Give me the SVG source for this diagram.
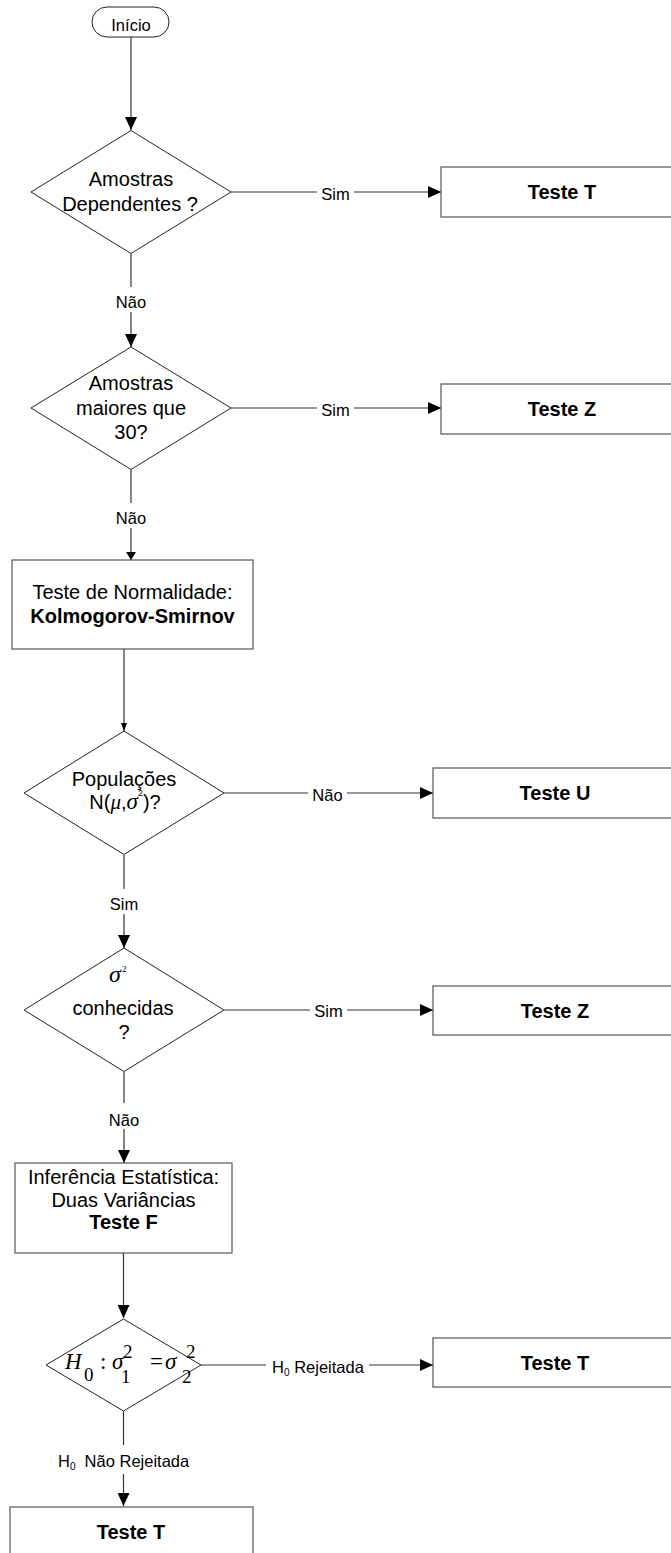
<svg xmlns="http://www.w3.org/2000/svg" width="671" height="1553" viewBox="0 0 671 1553">
  <style>
    .shape { fill: #ffffff; stroke: #222222; stroke-width: 1; }
    .box { fill: #ffffff; stroke: #555555; stroke-width: 1.2; }
    .wire { fill: none; stroke: #333333; stroke-width: 1.2; }
    .txt { font-family: "Liberation Sans", Arial, sans-serif; font-size: 20px; fill: #000000; text-anchor: middle; }
    .bold { font-weight: bold; }
    .lbl { font-family: "Liberation Sans", Arial, sans-serif; font-size: 16.5px; fill: #000000; text-anchor: middle; }
    .gap { fill: #ffffff; stroke: none; }
    .math { font-family: "Liberation Serif", "Times New Roman", serif; font-size: 23px; fill: #000000; }
    .idx { font-size: 19px; }
    .it { font-style: italic; }
  </style>
  <defs>
    <marker id="arrow" markerUnits="userSpaceOnUse" markerWidth="13" markerHeight="12" refX="13" refY="6" orient="auto">
      <path d="M0,0 L13,6 L0,12 Z" fill="#000000"/>
    </marker>
    <marker id="arrow-mid" markerUnits="userSpaceOnUse" markerWidth="8" markerHeight="10" refX="8" refY="5" orient="auto">
      <path d="M0,0 L8,5 L0,10 Z" fill="#000000"/>
    </marker>
    <marker id="arrow-small" markerUnits="userSpaceOnUse" markerWidth="8" markerHeight="6" refX="8" refY="3" orient="auto">
      <path d="M0,0 L8,3 L0,6 Z" fill="#000000"/>
    </marker>
  </defs>

  <rect width="671" height="1553" fill="#ffffff"/>

  <!-- connectors and their labels -->
  <g id="connectors">
    <path class="wire" d="M131,37 V130" marker-end="url(#arrow)"/>

    <path class="wire" d="M231,192 H441" marker-end="url(#arrow)"/>
    <rect class="gap" x="317" y="184" width="37" height="16"/>
    <text class="lbl" x="335.5" y="200">Sim</text>

    <path class="wire" d="M131,254 V347" marker-end="url(#arrow)"/>
    <rect class="gap" x="112" y="287" width="38" height="25"/>
    <text class="lbl" x="131" y="308">Não</text>

    <path class="wire" d="M231,408 H441" marker-end="url(#arrow)"/>
    <rect class="gap" x="317" y="400" width="37" height="16"/>
    <text class="lbl" x="335.5" y="416">Sim</text>

    <path class="wire" d="M131,470 V560" marker-end="url(#arrow-mid)"/>
    <rect class="gap" x="112" y="503" width="38" height="25"/>
    <text class="lbl" x="131" y="524">Não</text>

    <path class="wire" d="M124,649 V731" marker-end="url(#arrow-small)"/>

    <path class="wire" d="M224,793 H433" marker-end="url(#arrow)"/>
    <rect class="gap" x="308" y="785" width="39" height="16"/>
    <text class="lbl" x="327.5" y="801">Não</text>

    <path class="wire" d="M124,855 V948" marker-end="url(#arrow)"/>
    <rect class="gap" x="105" y="889" width="38" height="25"/>
    <text class="lbl" x="124" y="910">Sim</text>

    <path class="wire" d="M224,1010 H433" marker-end="url(#arrow)"/>
    <rect class="gap" x="310" y="1002" width="37" height="16"/>
    <text class="lbl" x="328.5" y="1017">Sim</text>

    <path class="wire" d="M124,1072 V1163" marker-end="url(#arrow)"/>
    <rect class="gap" x="105" y="1103" width="38" height="26"/>
    <text class="lbl" x="124" y="1126">Não</text>

    <path class="wire" d="M123.5,1253 V1318" marker-end="url(#arrow)"/>

    <path class="wire" d="M201,1365 H433" marker-end="url(#arrow)"/>
    <rect class="gap" x="266" y="1357" width="103" height="18"/>
    <text class="lbl" x="318" y="1373">H<tspan style="font-size:10px" dy="3">0</tspan><tspan dy="-3"> Rejeitada</tspan></text>

    <path class="wire" d="M123.5,1411 V1506" marker-end="url(#arrow)"/>
    <rect class="gap" x="52" y="1445" width="143" height="29"/>
    <text class="lbl" x="123.6" y="1467" xml:space="preserve">H<tspan style="font-size:10px" dy="3">0</tspan><tspan dy="-3">  Não Rejeitada</tspan></text>
  </g>

  <!-- start terminal -->
  <g id="inicio">
    <rect class="shape" x="92" y="7" width="77" height="30" rx="15" ry="15"/>
    <text class="txt" x="131" y="30.5" style="font-size:16.5px">Início</text>
  </g>

  <!-- decision: dependent samples -->
  <g id="dec-dependentes">
    <polygon class="shape" points="131,130.5 231,192 131,253.5 31,192"/>
    <text class="txt" x="131" y="186">Amostras</text>
    <text class="txt" x="130" y="211">Dependentes ?</text>
  </g>

  <g id="teste-t-1">
    <rect class="box" x="441" y="167" width="242" height="50"/>
    <text class="txt bold" x="562" y="199">Teste T</text>
  </g>

  <!-- decision: sample size -->
  <g id="dec-maiores30">
    <polygon class="shape" points="131,347 231,408 131,469.5 31,408"/>
    <text class="txt" x="131" y="390">Amostras</text>
    <text class="txt" x="131" y="415">maiores que</text>
    <text class="txt" x="131" y="438.5">30?</text>
  </g>

  <g id="teste-z-1">
    <rect class="box" x="441" y="384" width="242" height="50"/>
    <text class="txt bold" x="562" y="416">Teste Z</text>
  </g>

  <!-- normality test -->
  <g id="normalidade">
    <rect class="box" x="12" y="560" width="241" height="89"/>
    <text class="txt" x="132.5" y="599">Teste de Normalidade:</text>
    <text class="txt bold" x="132.5" y="622.5">Kolmogorov-Smirnov</text>
  </g>

  <!-- decision: normal populations -->
  <g id="dec-normal">
    <polygon class="shape" points="124,731 224,793 124,854.5 24,793"/>
    <text class="txt" x="124" y="786">Populações</text>
    <text class="txt" x="125" y="808.5">N(<tspan style="font-family:'Liberation Serif','Times New Roman',serif;font-style:italic;font-size:21px">μ</tspan>,<tspan style="font-family:'Liberation Serif','Times New Roman',serif;font-style:italic;font-size:23px">σ</tspan><tspan style="font-size:9px" dy="-13">2</tspan><tspan dy="13">)?</tspan></text>
  </g>

  <g id="teste-u">
    <rect class="box" x="433" y="768" width="244" height="50"/>
    <text class="txt bold" x="555" y="800">Teste U</text>
  </g>

  <!-- decision: known variances -->
  <g id="dec-conhecidas">
    <polygon class="shape" points="124,948 224,1010 124,1071.5 24,1010"/>
    <text class="math it" x="109" y="982" style="font-size:24px">σ</text>
    <text class="math" x="122" y="972" style="font-size:9px">2</text>
    <text class="txt" x="123" y="1015">conhecidas</text>
    <text class="txt" x="124" y="1038.5">?</text>
  </g>

  <g id="teste-z-2">
    <rect class="box" x="433" y="986" width="244" height="49"/>
    <text class="txt bold" x="555" y="1017.5">Teste Z</text>
  </g>

  <!-- F test on two variances -->
  <g id="teste-f">
    <rect class="box" x="15" y="1163" width="217" height="90"/>
    <text class="txt" x="123.5" y="1184">Inferência Estatística:</text>
    <text class="txt" x="123.5" y="1206.5">Duas Variâncias</text>
    <text class="txt bold" x="123.5" y="1229">Teste F</text>
  </g>

  <!-- decision: equal variances hypothesis -->
  <g id="dec-h0">
    <polygon class="shape" points="123.5,1319 201,1365 123.5,1411 46,1365"/>
    <text class="math it" x="65" y="1368.5">H</text>
    <text class="math idx" x="84" y="1380.5">0</text>
    <text class="math" x="100" y="1368.5">:</text>
    <text class="math it" x="112" y="1368.5">σ</text>
    <text class="math idx" x="123" y="1358">2</text>
    <text class="math idx" x="121" y="1383">1</text>
    <text class="math" x="150" y="1368.5">=</text>
    <text class="math it" x="165" y="1368.5">σ</text>
    <text class="math idx" x="186" y="1358">2</text>
    <text class="math idx" x="182" y="1383">2</text>
  </g>

  <g id="teste-t-2">
    <rect class="box" x="433" y="1338" width="244" height="49"/>
    <text class="txt bold" x="555" y="1369.5">Teste T</text>
  </g>

  <g id="teste-t-3">
    <rect class="box" x="10" y="1507" width="243" height="60"/>
    <text class="txt bold" x="131" y="1538.5">Teste T</text>
  </g>
</svg>
